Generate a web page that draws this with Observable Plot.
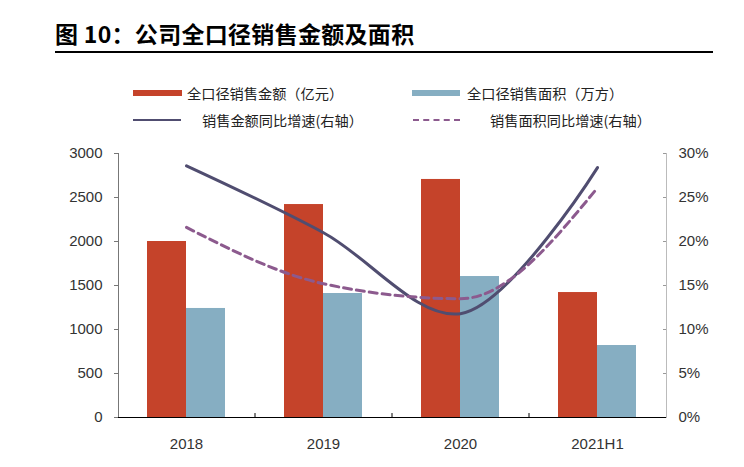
<!DOCTYPE html>
<html><head><meta charset="utf-8">
<script src="https://cdn.jsdelivr.net/npm/d3@7"></script>
<script src="https://cdn.jsdelivr.net/npm/@observablehq/plot@0.6"></script>
<style>
body{margin:0;background:#fff;width:744px;height:467px;overflow:hidden;font-family:"Noto Sans CJK SC","Liberation Sans",sans-serif;}
#title{position:absolute;left:55px;top:16px;font-size:23px;font-weight:bold;color:#000;letter-spacing:0.3px}
#rule{position:absolute;left:55px;top:51px;width:658px;height:2px;background:#000}
.lg{position:absolute;font-size:14.2px;color:#222;white-space:nowrap;line-height:18px}
.sw{position:absolute}
#chart{position:absolute;left:0;top:140px}
</style></head><body>
<div id="title">图 10：公司全口径销售金额及面积</div>
<div id="rule"></div>
<div id="legend"></div>
<div id="chart"></div>
<script>
const categories = ["2018", "2019", "2020", "2021H1"];
const salesAmount = [2000, 2420, 2705, 1420];      // 亿元
const salesArea = [1239, 1409, 1602, 818];         // 万方
const amountGrowth = [0.286, 0.210, 0.118, 0.284]; // 右轴
const areaGrowth = [0.216, 0.152, 0.135, 0.261];   // 右轴
const leftTicks = [0, 500, 1000, 1500, 2000, 2500, 3000];
const rightTicks = [0, 0.05, 0.10, 0.15, 0.20, 0.25, 0.30];
const seriesNames = ["全口径销售金额（亿元）", "全口径销售面积（万方）", "销售金额同比增速(右轴）", "销售面积同比增速(右轴）"];

const RED = "#C5432A", BLUE = "#86AEC2", DARK = "#504D70", PURPLE = "#8C5A8E";

// legend
const lg = document.getElementById("legend");
function add(html){ lg.insertAdjacentHTML("beforeend", html); }
add(`<div class="sw" style="left:133px;top:90px;width:49px;height:6px;background:${RED}"></div>`);
add(`<div class="lg" style="left:187px;top:84px">${seriesNames[0]}</div>`);
add(`<div class="sw" style="left:412px;top:90px;width:48px;height:6px;background:${BLUE}"></div>`);
add(`<div class="lg" style="left:467px;top:84px">${seriesNames[1]}</div>`);
add(`<div class="sw" style="left:133px;top:119px;width:48px;height:0;border-top:2px solid ${DARK}"></div>`);
add(`<div class="lg" style="left:202px;top:111px">${seriesNames[2]}</div>`);
add(`<div class="sw" style="left:413px;top:119px;width:47px;height:0;border-top:2px dashed ${PURPLE}"></div>`);
add(`<div class="lg" style="left:490px;top:111px">${seriesNames[3]}</div>`);

const bars = categories.map((c, i) => ({cat: c, amount: salesAmount[i], area: salesArea[i]}));
const g1 = categories.map((c, i) => ({cat: c, v: amountGrowth[i]}));
const g2 = categories.map((c, i) => ({cat: c, v: areaGrowth[i]}));
const toLeft = v => v * 10000;

const chart = Plot.plot({
  width: 744, height: 327,
  marginLeft: 118, marginRight: 78, marginTop: 13, marginBottom: 50,
  style: {fontFamily: "'Liberation Sans', Arial, sans-serif", fontSize: "15px", color: "#333", background: "#fff"},
  x: {domain: categories, paddingInner: 0.43, paddingOuter: 0.215, align: 0.5},
  y: {domain: [0, 3000]},
  marks: [
    Plot.barY(bars, {x: "cat", y: "amount", fill: RED, insetRight: 39}),
    Plot.barY(bars, {x: "cat", y: "area", fill: BLUE, insetLeft: 39}),
    Plot.line(g1, {x: "cat", y: d => toLeft(d.v), curve: "catmull-rom", stroke: DARK, strokeWidth: 3}),
    Plot.line(g2, {x: "cat", y: d => toLeft(d.v), curve: "monotone-x", stroke: PURPLE, strokeWidth: 3, strokeDasharray: "8,5"}),
    Plot.axisY({ticks: leftTicks, anchor: "left", tickSize: 4, tickPadding: 12, stroke: "#777", label: null, tickFormat: d => String(d)}),
    Plot.axisY({ticks: rightTicks.map(toLeft), anchor: "right", tickSize: -4, tickPadding: 16, stroke: "#999", label: null, tickFormat: d => Math.round(d / 100) + "%"}),
    Plot.axisX({tickSize: 0, tickPadding: 21, label: null}),
    Plot.frame({anchor: "left", stroke: "#777"}),
    Plot.frame({anchor: "right", stroke: "#bbb"}),
    Plot.ruleX(categories.slice(0, 3), {x: d => d, dx: 68.5, y1: 0, y2: 45, stroke: "#000"}),
    Plot.ruleY([0], {stroke: "#000", strokeWidth: 1.2})
  ]
});
document.getElementById("chart").append(chart);
</script>
</body></html>
